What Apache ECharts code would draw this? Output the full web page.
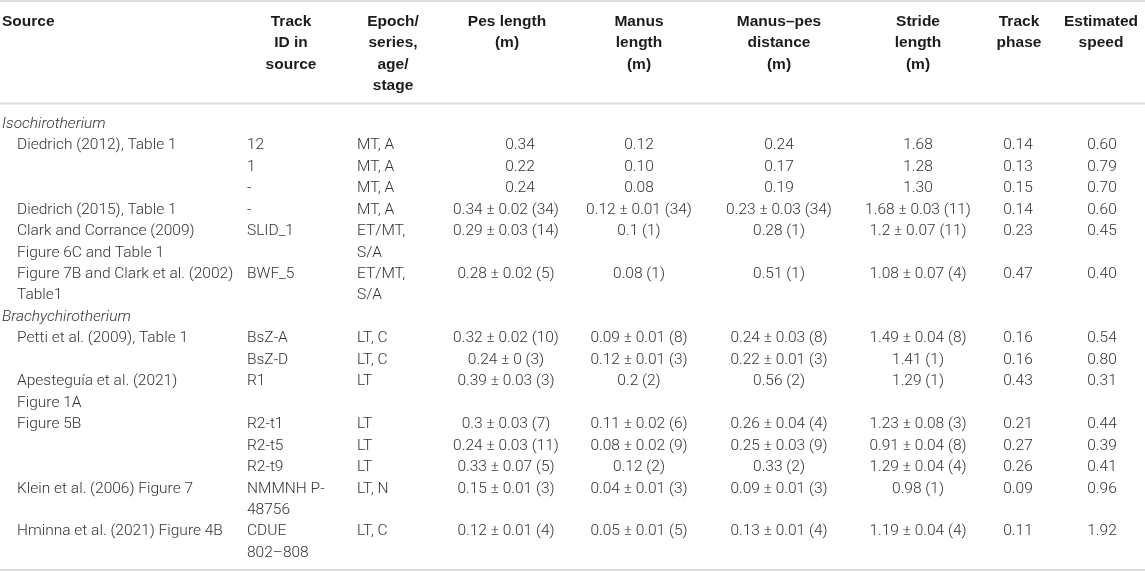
<!DOCTYPE html>
<html>
<head>
<meta charset="utf-8">
<script src="https://cdn.jsdelivr.net/npm/echarts@6/dist/echarts.min.js"></script>
<style>
html,body{margin:0;padding:0;background:#fff;}
#chart{width:1145px;height:573px;}
</style>
</head>
<body>
<div id="chart"></div>
<script>
// ---------------- DATA ----------------
const columns = ['Source', 'Track\nID in\nsource', 'Epoch/\nseries,\nage/\nstage', 'Pes length\n(m)',
  'Manus\nlength\n(m)', 'Manus–pes\ndistance\n(m)', 'Stride\nlength\n(m)', 'Track\nphase', 'Estimated\nspeed'];

const groupNames = ['Isochirotherium', 'Brachychirotherium'];
const recordGroup = [0, 0, 0, 0, 0, 0, 1, 1, 1, 1, 1, 1, 1, 1];

const sources = [
  'Diedrich (2012), Table 1', '', '', 'Diedrich (2015), Table 1',
  'Clark and Corrance (2009)\nFigure 6C and Table 1',
  'Figure 7B and Clark et al. (2002)\nTable1',
  'Petti et al. (2009), Table 1', '',
  'Apesteguía et al. (2021)\nFigure 1A',
  'Figure 5B', '', '',
  'Klein et al. (2006) Figure 7',
  'Hminna et al. (2021) Figure 4B'
];
const trackIds = ['12', '1', '-', '-', 'SLID_1', 'BWF_5', 'BsZ-A', 'BsZ-D', 'R1', 'R2-t1', 'R2-t5', 'R2-t9',
  'NMMNH P-\n48756', 'CDUE\n802–808'];
const epochs = ['MT, A', 'MT, A', 'MT, A', 'MT, A', 'ET/MT,\nS/A', 'ET/MT,\nS/A', 'LT, C', 'LT, C', 'LT', 'LT', 'LT', 'LT',
  'LT, N', 'LT, C'];
const pesLength = ['0.34', '0.22', '0.24', '0.34 ± 0.02 (34)', '0.29 ± 0.03 (14)', '0.28 ± 0.02 (5)',
  '0.32 ± 0.02 (10)', '0.24 ± 0 (3)', '0.39 ± 0.03 (3)', '0.3 ± 0.03 (7)', '0.24 ± 0.03 (11)',
  '0.33 ± 0.07 (5)', '0.15 ± 0.01 (3)', '0.12 ± 0.01 (4)'];
const manusLength = ['0.12', '0.10', '0.08', '0.12 ± 0.01 (34)', '0.1 (1)', '0.08 (1)',
  '0.09 ± 0.01 (8)', '0.12 ± 0.01 (3)', '0.2 (2)', '0.11 ± 0.02 (6)', '0.08 ± 0.02 (9)',
  '0.12 (2)', '0.04 ± 0.01 (3)', '0.05 ± 0.01 (5)'];
const manusPesDistance = ['0.24', '0.17', '0.19', '0.23 ± 0.03 (34)', '0.28 (1)', '0.51 (1)',
  '0.24 ± 0.03 (8)', '0.22 ± 0.01 (3)', '0.56 (2)', '0.26 ± 0.04 (4)', '0.25 ± 0.03 (9)',
  '0.33 (2)', '0.09 ± 0.01 (3)', '0.13 ± 0.01 (4)'];
const strideLength = ['1.68', '1.28', '1.30', '1.68 ± 0.03 (11)', '1.2 ± 0.07 (11)', '1.08 ± 0.07 (4)',
  '1.49 ± 0.04 (8)', '1.41 (1)', '1.29 (1)', '1.23 ± 0.08 (3)', '0.91 ± 0.04 (8)',
  '1.29 ± 0.04 (4)', '0.98 (1)', '1.19 ± 0.04 (4)'];
const trackPhase = ['0.14', '0.13', '0.15', '0.14', '0.23', '0.47', '0.16', '0.16', '0.43', '0.21', '0.27',
  '0.26', '0.09', '0.11'];
const estimatedSpeed = ['0.60', '0.79', '0.70', '0.60', '0.45', '0.40', '0.54', '0.80', '0.31', '0.44', '0.39',
  '0.41', '0.96', '1.92'];

// ---------------- LAYOUT (positions / styles only) ----------------
const LAYOUT = {
  width: 1145, height: 573,
  lineH: 21.45, firstDataY: 124, headerFirstY: 21.5,
  rules: [1, 103.5, 570],
  ruleColor: '#dcdcdc', ruleW: 2,
  // header anchor / align, body anchor / align
  cols: [
    { hx: 2, ha: 'left', bx: 17, ba: 'left' },
    { hx: 291, ha: 'center', bx: 247, ba: 'left' },
    { hx: 393, ha: 'center', bx: 357, ba: 'left' },
    { hx: 507, ha: 'center', bx: 506, ba: 'center' },
    { hx: 639, ha: 'center', bx: 639, ba: 'center' },
    { hx: 779, ha: 'center', bx: 779, ba: 'center' },
    { hx: 918, ha: 'center', bx: 918, ba: 'center' },
    { hx: 1019, ha: 'center', bx: 1018, ba: 'center' },
    { hx: 1101, ha: 'center', bx: 1102, ba: 'center' }
  ],
  // cell-level horizontal nudges seen in the source layout: [col, recordIndex, dx]
  nudges: [[3, 0, 14], [3, 1, 14], [3, 2, 14]],
  groupX: 2,
  headFont: 'Liberation Sans', bodyFont: 'Roboto', size: 15.5,
  bodyWeight: 300,
  bodyColor: '#333333', headColor: '#1c1c1c'
};

// ---------------- BUILD CELLS ----------------
const recordCols = [sources, trackIds, epochs, pesLength, manusLength, manusPesDistance, strideLength, trackPhase, estimatedSpeed];
const cells = []; // {x, line, text, align, kind}
const headerOffset = (LAYOUT.headerFirstY - LAYOUT.firstDataY) / LAYOUT.lineH;
columns.forEach((h, c) => {
  h.split('\n').forEach((t, k) => {
    cells.push({ x: LAYOUT.cols[c].hx, line: headerOffset + k, text: t, align: LAYOUT.cols[c].ha, kind: 'head' });
  });
});
function nudge(c, r) {
  const n = LAYOUT.nudges.find(d => d[0] === c && d[1] === r);
  return n ? n[2] : 0;
}
let line = 0, lastGroup = -1;
for (let r = 0; r < sources.length; r++) {
  if (recordGroup[r] !== lastGroup) {
    lastGroup = recordGroup[r];
    cells.push({ x: LAYOUT.groupX, line: line, text: groupNames[lastGroup], align: 'left', kind: 'group' });
    line += 1;
  }
  let n = 1;
  recordCols.forEach((arr, c) => {
    const parts = arr[r] === '' ? [] : arr[r].split('\n');
    n = Math.max(n, parts.length);
    parts.forEach((t, k) => {
      cells.push({ x: LAYOUT.cols[c].bx + nudge(c, r), line: line + k, text: t, align: LAYOUT.cols[c].ba, kind: 'body' });
    });
  });
  line += n;
}

const yMin = -LAYOUT.firstDataY / LAYOUT.lineH;
const yMax = (LAYOUT.height - LAYOUT.firstDataY) / LAYOUT.lineH;
const ruleData = LAYOUT.rules.map(p => [0, (p - LAYOUT.firstDataY) / LAYOUT.lineH]);

const chart = echarts.init(document.getElementById('chart'));
chart.setOption({
  animation: false,
  grid: { left: 0, right: 0, top: 0, bottom: 0 },
  xAxis: { type: 'value', min: 0, max: LAYOUT.width, show: false },
  yAxis: { type: 'value', min: yMin, max: yMax, inverse: true, show: false },
  series: [
    {
      type: 'custom',
      name: 'rules',
      data: ruleData,
      silent: true,
      renderItem: function (params, api) {
        const a = api.coord([0, api.value(1)]);
        const b = api.coord([LAYOUT.width, api.value(1)]);
        return {
          type: 'rect',
          shape: { x: a[0], y: a[1] - LAYOUT.ruleW / 2, width: b[0] - a[0], height: LAYOUT.ruleW },
          style: { fill: LAYOUT.ruleColor }
        };
      }
    },
    {
      type: 'custom',
      name: 'cells',
      data: cells.map(c => [c.x, c.line]),
      silent: true,
      renderItem: function (params, api) {
        const c = cells[params.dataIndex];
        const p = api.coord([api.value(0), api.value(1)]);
        const head = c.kind === 'head';
        return {
          type: 'text',
          x: p[0], y: p[1],
          style: {
            text: c.text,
            fill: head ? LAYOUT.headColor : LAYOUT.bodyColor,
            fontFamily: head ? LAYOUT.headFont : LAYOUT.bodyFont,
            fontSize: LAYOUT.size,
            fontWeight: head ? 'bold' : LAYOUT.bodyWeight,
            fontStyle: c.kind === 'group' ? 'italic' : 'normal',
            align: c.align,
            verticalAlign: 'middle'
          }
        };
      }
    }
  ]
});
</script>
</body>
</html>
